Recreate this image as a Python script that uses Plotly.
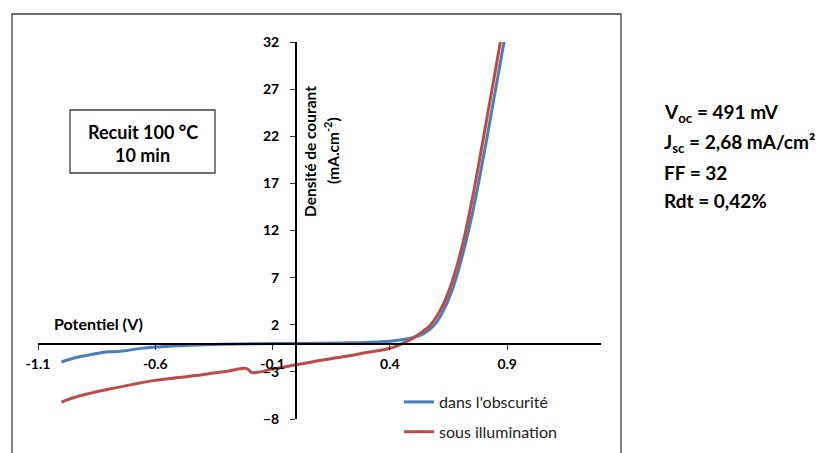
import plotly.graph_objects as go

# Dark current (dans l'obscurité)
v_dark = [-1.0, -0.95, -0.9, -0.85, -0.8, -0.76, -0.72, -0.65, -0.55, -0.45, -0.35, -0.25,
          -0.1, 0.0, 0.1, 0.2, 0.3, 0.35, 0.4, 0.45, 0.5, 0.54, 0.57, 0.6, 0.63, 0.66,
          0.69, 0.72, 0.75, 0.78, 0.81, 0.84, 0.87, 0.888]
j_dark = [-1.95, -1.55, -1.28, -1.05, -0.87, -0.85, -0.72, -0.48, -0.3, -0.18, -0.1, -0.05,
          0.0, 0.02, 0.04, 0.07, 0.12, 0.18, 0.25, 0.4, 0.65, 1.0, 1.5, 2.3, 3.6, 5.3,
          7.6, 10.4, 13.6, 17.3, 21.3, 25.5, 29.7, 32.2]

# Illuminated (sous illumination)
v_light = [-1.0, -0.95, -0.9, -0.85, -0.8, -0.7, -0.6, -0.5, -0.4, -0.3, -0.21, -0.19,
           -0.165, -0.1, 0.0, 0.1, 0.2, 0.3, 0.4, 0.47, 0.5, 0.54, 0.57, 0.6, 0.63,
           0.66, 0.69, 0.72, 0.75, 0.78, 0.81, 0.84, 0.871]
j_light = [-6.2, -5.75, -5.4, -5.1, -4.85, -4.35, -3.9, -3.6, -3.3, -2.95, -2.65, -3.05,
           -3.05, -2.7, -2.25, -1.8, -1.4, -0.95, -0.5, 0.2, 0.6, 1.3, 1.9, 2.9, 4.3,
           6.2, 8.6, 11.6, 15.2, 19.2, 23.4, 27.6, 32.0]

x_ticks = [-1.1, -0.6, -0.1, 0.4, 0.9]
x_ticklabels = ["-1.1", "-0.6", "-0.1", "0.4", "0.9"]
y_ticks = [-8, -3, 2, 7, 12, 17, 22, 27, 32]

series_names = ["dans l'obscurité", "sous illumination"]
series_colors = ["#4A7EBB", "#BE4B48"]

stats_lines = ["V<sub>oc</sub> = 491 mV", "J<sub>sc</sub> = 2,68 mA/cm²", "FF = 32", "Rdt = 0,42%"]

FONT = "Lato"
OFF = 8  # page body margin offset
W, H = 836 - OFF, 453 - OFF
ML, MT = 38 - OFF, 42 - OFF
PW, PH = 563, 377
MR, MB = W - ML - PW, H - MT - PH


def px(x):
    return (x - OFF - ML) / PW


def py(y):
    return 1 - (y - OFF - MT) / PH


fig = go.Figure()
fig.add_trace(go.Scatter(x=v_dark, y=j_dark, mode="lines", name=series_names[0],
                         line=dict(color=series_colors[0], width=3, shape="spline", smoothing=1.0),
                         legendgroup="a"))
fig.add_trace(go.Scatter(x=v_light, y=j_light, mode="lines", name=series_names[1],
                         line=dict(color=series_colors[1], width=3, shape="spline", smoothing=1.0),
                         legendgroup="b"))

axis_font = dict(family=FONT, size=14, color="#000000", weight="bold")

fig.update_layout(
    width=W, height=H,
    margin=dict(l=ML, r=MR, t=MT, b=MB, autoexpand=False),
    paper_bgcolor="white", plot_bgcolor="white",
    font=dict(family=FONT, color="#000000"),
    xaxis=dict(range=[-1.1, 1.3], tickvals=x_ticks, ticktext=x_ticklabels,
               anchor="free", position=8 / 40, showline=True, linecolor="#000000",
               linewidth=2, ticks="outside", ticklen=5, tickcolor="#333333", tickwidth=1,
               showgrid=False, zeroline=False, tickfont=axis_font, ticklabelstandoff=3,
               automargin=False),
    yaxis=dict(range=[-8, 32], tickvals=y_ticks, anchor="free", position=1.1 / 2.4,
               showline=True, linecolor="#000000", linewidth=2, ticks="outside", ticklen=5,
               tickcolor="#333333", tickwidth=1, showgrid=False, zeroline=False,
               tickfont=axis_font, ticklabelstandoff=8, automargin=False),
    showlegend=True,
    legend=dict(x=px(399), y=py(385), xanchor="left", yanchor="top",
                font=dict(family=FONT, size=16, color="#222222"),
                bgcolor="rgba(0,0,0,0)", traceorder="grouped", tracegroupgap=6,
                itemwidth=30),
)

shapes = [
    # outer chart frame
    dict(type="rect", xref="paper", yref="paper", x0=px(12), x1=px(621), y0=py(470), y1=py(14),
         line=dict(color="#404040", width=1.3)),
    # annotation box
    dict(type="rect", xref="paper", yref="paper", x0=px(70), x1=px(215), y0=py(173), y1=py(110),
         line=dict(color="#404040", width=1.3), fillcolor="white"),
]
fig.update_layout(shapes=shapes)

ann = []
ann.append(dict(text="Recuit 100 °C", x=px(142.5), y=py(131.5), xref="paper", yref="paper",
                showarrow=False, xanchor="center", yanchor="middle",
                font=dict(family=FONT, size=18, weight="bold", color="#000")))
ann.append(dict(text="10 min", x=px(142.5), y=py(155), xref="paper", yref="paper",
                showarrow=False, xanchor="center", yanchor="middle",
                font=dict(family=FONT, size=18, weight="bold", color="#000")))
ann.append(dict(text="Potentiel (V)", x=px(52), y=py(323), xref="paper", yref="paper",
                showarrow=False, xanchor="left", yanchor="middle",
                font=dict(family=FONT, size=16, weight="bold", color="#000")))
ann.append(dict(text="Densité de courant", x=px(310), y=py(152), xref="paper", yref="paper",
                showarrow=False, xanchor="center", yanchor="middle", textangle=-90,
                font=dict(family=FONT, size=15.5, weight="bold", color="#000")))
ann.append(dict(text="(mA.cm<sup>-2</sup>)", x=px(331), y=py(151), xref="paper", yref="paper",
                showarrow=False, xanchor="center", yanchor="middle", textangle=-90,
                font=dict(family=FONT, size=15.5, weight="bold", color="#000")))
for txt, yc in zip(stats_lines, [113, 143, 172, 200]):
    ann.append(dict(text=txt, x=px(662), y=py(yc), xref="paper", yref="paper",
                    showarrow=False, xanchor="left", yanchor="middle",
                    font=dict(family=FONT, size=19, weight="bold", color="#000")))
fig.update_layout(annotations=ann)

fig.write_html("out.html")
